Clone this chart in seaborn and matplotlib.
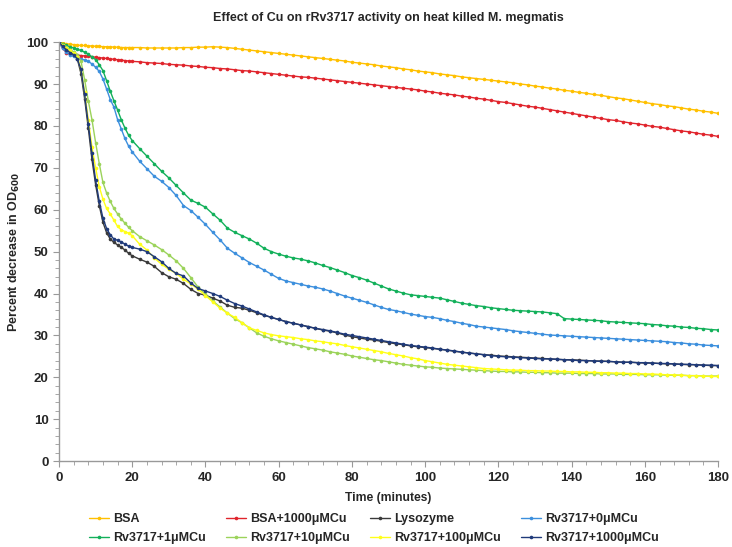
import numpy as np
import pandas as pd
import matplotlib
matplotlib.use('Agg')
import matplotlib.pyplot as plt
import seaborn as sns
from matplotlib.ticker import MultipleLocator

# time points (minutes): every minute up to 20, then every 2 minutes
time_min = list(range(0, 21)) + list(range(22, 181, 2))

bsa = [100, 99.8, 99.6, 99.5, 99.4, 99.3, 99.2, 99.2, 99.1, 99.1, 99.0, 99.0, 98.9, 98.9, 98.9, 98.8, 98.8, 98.7, 98.7, 98.7, 98.7,
       98.7, 98.6, 98.6, 98.6, 98.6, 98.6, 98.7, 98.7, 98.8, 98.8, 98.9, 98.8, 98.7, 98.5, 98.3, 98.1, 97.9, 97.7, 97.5, 97.3,
       97.1, 96.9, 96.7, 96.5, 96.3, 96.1, 95.9, 95.7, 95.5, 95.2, 95.0, 94.8, 94.6, 94.3, 94.1, 93.9, 93.6, 93.4, 93.1, 92.9,
       92.7, 92.4, 92.2, 92.0, 91.7, 91.5, 91.3, 91.1, 90.9, 90.7, 90.5, 90.3, 90.0, 89.8, 89.5, 89.3, 89.0, 88.8, 88.5, 88.3,
       88.0, 87.8, 87.5, 87.3, 87.0, 86.7, 86.5, 86.2, 85.9, 85.6, 85.3, 85.1, 84.8, 84.6, 84.3, 84.0, 83.8, 83.5, 83.3, 83.0]

bsa_cu = [100, 98.5, 97.5, 97.2, 97.0, 96.9, 96.8, 96.7, 96.6, 96.5, 96.4, 96.3, 96.2, 96.1, 96.0, 95.9, 95.8, 95.7, 95.6, 95.5, 95.4,
          95.3, 95.1, 95.0, 94.9, 94.7, 94.6, 94.5, 94.3, 94.2, 94.0, 93.9, 93.7, 93.6, 93.4, 93.2, 93.1, 92.9, 92.7, 92.5, 92.3,
          92.1, 91.9, 91.7, 91.6, 91.4, 91.2, 91.0, 90.8, 90.6, 90.4, 90.2, 90.0, 89.8, 89.6, 89.4, 89.2, 89.0, 88.8, 88.6, 88.3,
          88.1, 87.8, 87.6, 87.4, 87.1, 86.9, 86.6, 86.4, 86.1, 85.8, 85.6, 85.3, 85.0, 84.7, 84.5, 84.2, 83.9, 83.6, 83.3, 83.0,
          82.7, 82.4, 82.1, 81.8, 81.5, 81.3, 81.0, 80.7, 80.5, 80.2, 79.9, 79.7, 79.4, 79.1, 78.8, 78.6, 78.3, 78.0, 77.8, 77.5]

lysozyme = [100, 99.3, 98.7, 98.0, 97.3, 96.0, 92.5, 86.5, 79.5, 72.0, 66.0, 61.0, 57.0, 54.5, 53.0, 52.2, 51.6, 51.0, 50.4, 49.6, 49.0,
            48.2, 47.5, 46.5, 45.0, 44.0, 43.4, 42.4, 41.0, 40.0, 39.6, 38.9, 38.2, 37.2, 36.7, 36.5, 36.0, 35.4, 34.8, 34.3, 33.8,
            33.3, 32.9, 32.5, 32.1, 31.7, 31.3, 31.0, 30.6, 30.1, 29.7, 29.4, 29.1, 28.9, 28.6, 28.3, 28.0, 27.8, 27.5, 27.3, 27.1,
            26.9, 26.7, 26.5, 26.2, 26.0, 25.8, 25.6, 25.4, 25.3, 25.1, 25.0, 24.9, 24.8, 24.7, 24.6, 24.5, 24.4, 24.3, 24.2, 24.2,
            24.1, 24.0, 23.9, 23.9, 23.8, 23.7, 23.6, 23.6, 23.5, 23.4, 23.4, 23.3, 23.2, 23.2, 23.1, 23.0, 23.0, 22.9, 22.8, 22.8]

rv_0 = [100, 98.5, 97.6, 96.9, 96.6, 96.3, 96.0, 95.7, 95.4, 94.8, 94.0, 93.0, 91.2, 88.8, 86.3, 84.5, 81.5, 79.3, 77.0, 75.2, 73.8,
        71.6, 69.8, 68.0, 66.8, 65.3, 63.4, 61.0, 59.8, 58.2, 56.5, 54.6, 52.8, 50.8, 49.6, 48.5, 47.4, 46.5, 45.6, 44.6, 43.6,
        43.0, 42.6, 42.2, 41.8, 41.5, 41.1, 40.6, 40.0, 39.4, 38.9, 38.4, 37.9, 37.3, 36.7, 36.2, 35.9, 35.5, 35.1, 34.8, 34.5,
        34.3, 34.0, 33.6, 33.3, 32.9, 32.6, 32.2, 32.0, 31.8, 31.6, 31.4, 31.1, 30.9, 30.7, 30.5, 30.3, 30.1, 30.0, 29.9, 29.8,
        29.7, 29.6, 29.5, 29.4, 29.3, 29.2, 29.1, 29.0, 28.9, 28.8, 28.7, 28.6, 28.5, 28.3, 28.2, 28.0, 27.9, 27.7, 27.6, 27.5]

rv_1 = [100, 99.6, 99.2, 98.9, 98.6, 98.3, 98.0, 97.6, 97.1, 96.5, 95.8, 94.6, 93.2, 90.8, 88.3, 86.0, 83.8, 81.5, 79.5, 77.8, 76.5,
        74.6, 72.8, 71.0, 69.2, 67.6, 65.8, 64.0, 62.3, 61.5, 60.6, 59.0, 57.5, 55.6, 54.6, 53.8, 53.0, 52.0, 50.8, 50.0, 49.4,
        48.9, 48.5, 48.2, 47.8, 47.3, 46.7, 46.2, 45.6, 45.0, 44.3, 43.8, 43.2, 42.5, 41.8, 41.1, 40.6, 40.1, 39.7, 39.5, 39.3,
        39.1, 38.9, 38.5, 38.1, 37.7, 37.4, 37.1, 36.9, 36.6, 36.4, 36.2, 36.0, 35.9, 35.8, 35.7, 35.6, 35.4, 35.2, 34.0, 33.9,
        33.8, 33.7, 33.6, 33.5, 33.3, 33.2, 33.1, 33.0, 32.9, 32.8, 32.6, 32.5, 32.3, 32.2, 32.0, 31.9, 31.7, 31.6, 31.4, 31.3]

rv_10 = [100, 99.4, 98.8, 98.2, 97.6, 97.0, 95.5, 91.0, 86.0, 81.5, 76.0, 71.0, 66.5, 64.0, 62.0, 60.3, 59.0, 57.8, 56.8, 55.8, 55.0,
         53.6, 52.6, 51.6, 50.5, 49.2, 47.8, 46.0, 43.8, 41.5, 39.8, 38.2, 36.8, 35.3, 34.0, 33.0, 31.8, 30.6, 29.8, 29.2, 28.7,
         28.3, 27.9, 27.5, 27.1, 26.8, 26.5, 26.1, 25.8, 25.5, 25.1, 24.8, 24.5, 24.2, 24.0, 23.7, 23.4, 23.1, 22.9, 22.7, 22.5,
         22.4, 22.2, 22.1, 22.0, 21.9, 21.8, 21.7, 21.6, 21.5, 21.4, 21.4, 21.3, 21.3, 21.2, 21.2, 21.1, 21.1, 21.0, 21.0, 21.0,
         20.9, 20.9, 20.9, 20.8, 20.8, 20.8, 20.7, 20.7, 20.7, 20.6, 20.6, 20.6, 20.5, 20.5, 20.5, 20.4, 20.4, 20.3, 20.3, 20.3]

rv_100 = [100, 99.3, 98.6, 98.0, 97.3, 96.5, 93.5, 88.0, 81.5, 75.0, 70.0, 65.5, 62.5, 60.3, 59.0, 57.5, 56.0, 55.2, 54.8, 54.4, 53.8,
          51.8, 50.4, 48.5, 47.0, 45.8, 44.8, 43.4, 42.3, 41.0, 39.5, 38.0, 36.5, 35.3, 34.3, 33.0, 31.8, 31.2, 30.6, 30.2, 29.9,
          29.7, 29.5, 29.2, 29.0, 28.7, 28.5, 28.2, 28.0, 27.6, 27.3, 27.0, 26.7, 26.4, 26.1, 25.7, 25.4, 25.1, 24.7, 24.4, 24.0,
          23.7, 23.4, 23.1, 22.9, 22.7, 22.5, 22.3, 22.1, 22.0, 21.9, 21.8, 21.7, 21.7, 21.6, 21.6, 21.5, 21.5, 21.4, 21.4, 21.3,
          21.3, 21.2, 21.2, 21.1, 21.1, 21.0, 21.0, 20.9, 20.9, 20.8, 20.8, 20.7, 20.6, 20.6, 20.5, 20.4, 20.4, 20.3, 20.2, 20.2]

rv_1000 = [100, 99.0, 98.2, 97.5, 97.0, 96.0, 93.5, 87.5, 80.5, 73.5, 67.0, 62.0, 58.0, 55.5, 54.0, 53.0, 52.7, 52.3, 51.8, 51.3, 51.0,
           50.6, 50.0, 48.8, 47.6, 46.0, 44.8, 44.2, 42.5, 41.2, 40.6, 40.0, 39.3, 38.4, 37.6, 37.0, 36.3, 35.6, 34.9, 34.3, 33.8,
           33.3, 32.9, 32.5, 32.1, 31.7, 31.4, 31.1, 30.7, 30.3, 30.0, 29.7, 29.4, 29.1, 28.8, 28.5, 28.2, 27.9, 27.6, 27.4, 27.2,
           27.0, 26.7, 26.5, 26.3, 26.0, 25.8, 25.6, 25.4, 25.2, 25.0, 24.9, 24.8, 24.7, 24.6, 24.5, 24.4, 24.4, 24.3, 24.2, 24.1,
           24.0, 24.0, 23.9, 23.8, 23.8, 23.7, 23.6, 23.6, 23.5, 23.5, 23.4, 23.3, 23.3, 23.2, 23.1, 23.1, 23.0, 22.9, 22.9, 22.8]

series_names = ['BSA', 'BSA+1000μMCu', 'Lysozyme', 'Rv3717+0μMCu',
                'Rv3717+1μMCu', 'Rv3717+10μMCu', 'Rv3717+100μMCu', 'Rv3717+1000μMCu']
series_values = [bsa, bsa_cu, lysozyme, rv_0, rv_1, rv_10, rv_100, rv_1000]
colors = ['#FFC000', '#E0242C', '#3A3A3A', '#3C8FDD',
          '#12B05A', '#9BD35A', '#FFFF1A', '#1F3A7A']

df = pd.concat([pd.DataFrame({'Time': time_min, 'Value': v, 'Series': n})
                for n, v in zip(series_names, series_values)], ignore_index=True)

sns.set_style('white')
plt.rcParams['font.family'] = ['Liberation Sans', 'DejaVu Sans']

fig = plt.figure(figsize=(7.32, 5.47), dpi=100)
ax = fig.add_axes([0.0806, 0.157, 0.9004, 0.766])

sns.lineplot(data=df, x='Time', y='Value', hue='Series', hue_order=series_names,
             palette=dict(zip(series_names, colors)), marker='o', markersize=2.6,
             markeredgewidth=0, linewidth=1.0, ax=ax, legend=True)

ax.set_xlim(0, 180)
ax.set_ylim(0, 100)
ax.xaxis.set_major_locator(MultipleLocator(20))
ax.xaxis.set_minor_locator(MultipleLocator(4))
ax.yaxis.set_major_locator(MultipleLocator(10))
ax.yaxis.set_minor_locator(MultipleLocator(2))
ax.tick_params(axis='both', which='both', direction='out', color='#999999',
               bottom=True, left=True)
ax.tick_params(which='major', length=4, labelsize=9.5)
ax.tick_params(which='minor', length=3)
for lab in ax.get_xticklabels() + ax.get_yticklabels():
    lab.set_fontweight('bold')
sns.despine(ax=ax)
for s in ['left', 'bottom']:
    ax.spines[s].set_color('#999999')
    ax.spines[s].set_linewidth(1.0)

ax.set_title('Effect of Cu on rRv3717 activity on heat killed M. megmatis',
             fontsize=9, fontweight='bold', pad=15)
ax.set_xlabel('Time (minutes)', fontsize=8.7, fontweight='bold', labelpad=6)
ax.set_ylabel('Percent decrease in OD$_{\\mathbf{600}}$', fontsize=9, fontweight='bold', labelpad=3)

# legend filled row by row (2 rows x 4 columns)
handles, labels = ax.get_legend_handles_labels()
ax.get_legend().remove()
order = [0, 4, 1, 5, 2, 6, 3, 7]
fig.legend([handles[i] for i in order], [labels[i] for i in order],
           loc='upper center', bbox_to_anchor=(0.511, 0.082), ncol=4,
           frameon=False, handlelength=1.6, handletextpad=0.3,
           columnspacing=1.65, labelspacing=0.55, prop={'weight': 'bold', 'size': 9})

fig.savefig('out.png', dpi=100)
